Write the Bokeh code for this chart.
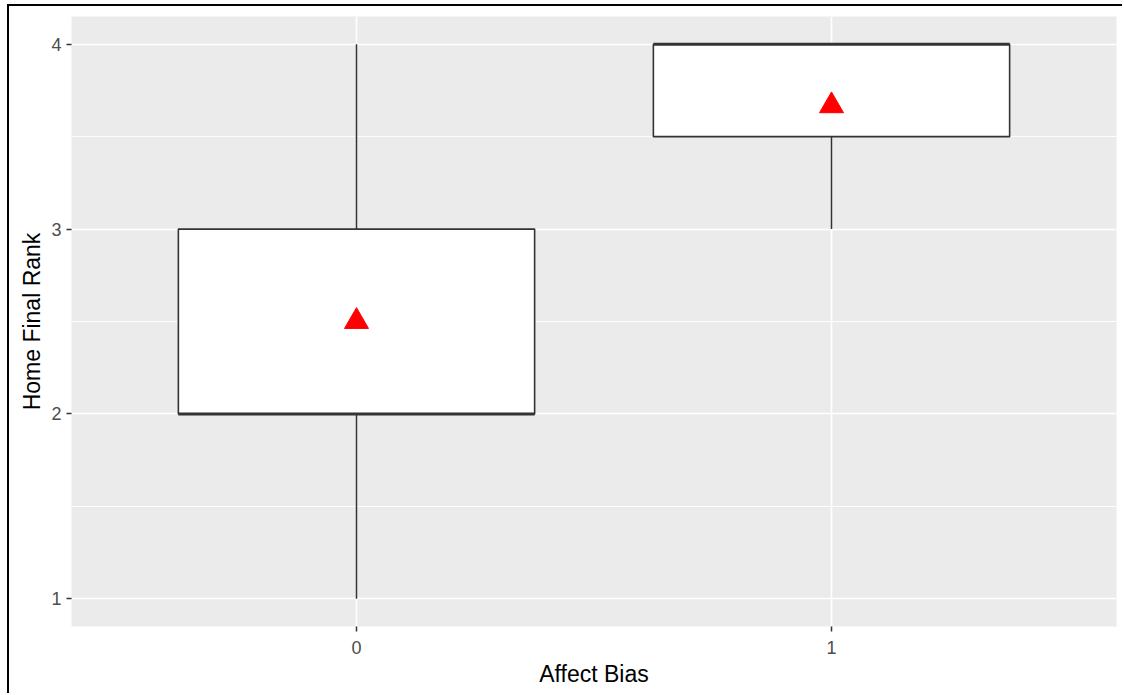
from bokeh.plotting import figure
from bokeh.models import FactorRange, Range1d, FixedTicker, ColumnDataSource
from bokeh.transform import dodge
from bokeh.embed import file_html
from bokeh.resources import INLINE

categories = ["0", "1"]
whisker_low = [1.0, 3.0]
q1 = [2.0, 3.5]
median = [2.0, 4.0]
q3 = [3.0, 4.0]
whisker_high = [4.0, 4.0]
means = [2.5, 3.667]
y_ticks = [1, 2, 3, 4]

src = ColumnDataSource(dict(cat=categories, lo=whisker_low, q1=q1, med=median,
                            q3=q3, hi=whisker_high, mean=means))

p = figure(width=1115, height=689, output_backend="svg", toolbar_location=None,
           x_range=FactorRange(factors=categories, range_padding=0.1,
                               range_padding_units="absolute"),
           y_range=Range1d(0.85, 4.15),
           min_border_left=62, min_border_right=8, min_border_top=10,
           min_border_bottom=69)
p.styles = {"margin-left": "7px", "margin-top": "4px",
            "border-left": "2.5px solid black", "border-top": "2px solid black"}

p.background_fill_color = "#EBEBEB"
p.border_fill_color = "white"
p.outline_line_color = None

# grid
p.xgrid.grid_line_color = "white"
p.xgrid.grid_line_width = 1.6
p.ygrid.grid_line_color = "white"
p.ygrid.grid_line_width = 1.6
p.ygrid.minor_grid_line_color = "white"
p.ygrid.minor_grid_line_width = 0.9
p.yaxis.ticker = FixedTicker(ticks=y_ticks, minor_ticks=[1.5, 2.5, 3.5])

# whiskers
p.segment(x0="cat", y0="lo", x1="cat", y1="q1", source=src, line_color="#333333", line_width=1.5)
p.segment(x0="cat", y0="q3", x1="cat", y1="hi", source=src, line_color="#333333", line_width=1.5)
# boxes
p.vbar(x="cat", bottom="q1", top="q3", width=0.75, source=src, fill_color="white",
       line_color="#333333", line_width=1.6)
# median
p.segment(x0=dodge("cat", -0.375, range=p.x_range), y0="med",
          x1=dodge("cat", 0.375, range=p.x_range), y1="med", source=src,
          line_color="#333333", line_width=3)
# means
p.scatter(x="cat", y="mean", source=src, marker="triangle", size=24,
          fill_color="red", line_color="red")

for ax in (p.xaxis[0], p.yaxis[0]):
    ax.axis_line_color = None
    ax.major_tick_line_color = "#333333"
    ax.major_tick_line_width = 1.5
    ax.major_tick_out = 5
    ax.major_tick_in = 0
    ax.minor_tick_line_color = None
    ax.major_label_text_color = "#4D4D4D"
    ax.major_label_text_font = "Liberation Sans"
    ax.major_label_text_font_size = "18px"
    ax.axis_label_text_font = "Liberation Sans"
    ax.axis_label_text_font_size = "23px"
    ax.axis_label_text_font_style = "normal"
    ax.axis_label_text_color = "black"

p.xaxis.axis_label = "Affect Bias"
p.yaxis.axis_label = "Home Final Rank"
p.xaxis.major_label_standoff = 9
p.xaxis.axis_label_standoff = 4
p.yaxis.major_label_standoff = 5
p.yaxis.axis_label_standoff = 3

open("out.html", "w").write(file_html(p, INLINE))
